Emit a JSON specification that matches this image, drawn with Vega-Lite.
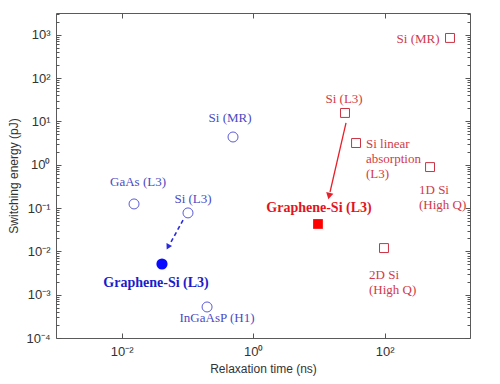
{
  "$schema": "https://vega.github.io/schema/vega-lite/v6.json",
  "width": 414,
  "height": 325,
  "autosize": {"type": "none"},
  "padding": {"left": 56, "top": 13, "right": 30, "bottom": 46},
  "background": "white",
  "config": {
    "view": {"stroke": "#5a5a5a", "strokeWidth": 1},
    "axis": {
      "grid": false,
      "domain": false,
      "labelFont": "Liberation Sans",
      "titleFont": "Liberation Sans",
      "labelColor": "#333333",
      "titleColor": "#333333",
      "tickColor": "#555555",
      "labelFontSize": 13,
      "titleFontSize": 12,
      "titleFontWeight": "normal"
    },
    "text": {"font": "Liberation Serif"}
  },
  "datasets": {
    "points": [
      {"name": "GaAs (L3)", "relax": 0.0154, "energy": 0.124, "set": "A"},
      {"name": "Si (L3)", "relax": 0.102, "energy": 0.077, "set": "A"},
      {"name": "Si (MR)", "relax": 0.494, "energy": 4.35, "set": "A"},
      {"name": "InGaAsP (H1)", "relax": 0.199, "energy": 0.00052, "set": "A"},
      {"name": "Graphene-Si (L3)", "relax": 0.041, "energy": 0.0051, "set": "A"},
      {"name": "Si (MR)", "relax": 990, "energy": 840, "set": "B"},
      {"name": "Si (L3)", "relax": 25, "energy": 15.6, "set": "B"},
      {"name": "Si linear absorption (L3)", "relax": 36.8, "energy": 3.16, "set": "B"},
      {"name": "1D Si (High Q)", "relax": 492, "energy": 0.88, "set": "B"},
      {"name": "2D Si (High Q)", "relax": 98, "energy": 0.0119, "set": "B"},
      {"name": "Graphene-Si (L3)", "relax": 9.7, "energy": 0.0428, "set": "B"}
    ],
    "labels": [
      {"label": "Si (MR)", "relax": 0.445, "energy": 11.9, "set": "A"},
      {"label": "GaAs (L3)", "relax": 0.0177, "energy": 0.398, "set": "A"},
      {"label": "Si (L3)", "relax": 0.1216, "energy": 0.161, "set": "A"},
      {"label": "InGaAsP (H1)", "relax": 0.282, "energy": 0.00029, "set": "A"},
      {"label": "Graphene-Si (L3)", "relax": 0.0333, "energy": 0.00186, "set": "A"},
      {"label": "Si (MR)", "relax": 323, "energy": 795, "set": "B"},
      {"label": "Si (L3)", "relax": 24.2, "energy": 32.8, "set": "B"},
      {"label": ["Si linear", "absorption", "(L3)"], "relax": 52.2, "energy": 3.0, "set": "B"},
      {"label": ["1D Si", "(High Q)"], "relax": 334, "energy": 0.26, "set": "B"},
      {"label": ["2D Si", "(High Q)"], "relax": 58, "energy": 0.00285, "set": "B"},
      {"label": "Graphene-Si (L3)", "relax": 10.05, "energy": 0.1, "set": "B"}
    ],
    "shafts": [
      {"set": "A", "relax": 0.0857, "energy": 0.0528, "relax2": 0.0543, "energy2": 0.0148},
      {"set": "B", "relax": 25.9, "energy": 9.2, "relax2": 14.8, "energy2": 0.234}
    ],
    "heads": [
      {"set": "A", "relax": 0.0506, "energy": 0.0126},
      {"set": "B", "relax": 14.3, "energy": 0.189}
    ]
  },
  "resolve": {"axis": {"x": "independent", "y": "independent"}},
  "layer": [
    {
      "data": {"name": "points"},
      "transform": [{"filter": "datum.set == 'A' && datum.name != 'Graphene-Si (L3)'"}],
      "mark": {"type": "point", "shape": "circle", "filled": false, "size": 100, "strokeWidth": 1, "color": "#5b5bd6", "opacity": 1},
      "encoding": {
        "x": {"field": "relax", "type": "quantitative", "scale": {"type": "log", "domain": [0.001, 1995.26], "nice": false, "zero": false},
          "axis": {"orient": "bottom", "values": [0.01, 1, 100], "ticks": false, "tickSize": 0, "labelPadding": 7, "title": "Relaxation time (ns)", "titlePadding": 5,
            "labelExpr": "'10' + (round(log(datum.value)/LN10) < 0 ? '⁻' : '') + substring('⁰¹²³⁴⁵⁶⁷⁸⁹', abs(round(log(datum.value)/LN10)), abs(round(log(datum.value)/LN10)) + 1)"}},
        "y": {"field": "energy", "type": "quantitative", "scale": {"type": "log", "domain": [0.0001, 3162.28], "nice": false, "zero": false},
          "axis": {"orient": "left", "values": [0.0001, 0.001, 0.01, 0.1, 1, 10, 100, 1000], "ticks": false, "tickSize": 0, "labelPadding": 6, "title": "Switching energy (pJ)", "titlePadding": 5,
            "labelExpr": "'10' + (round(log(datum.value)/LN10) < 0 ? '⁻' : '') + substring('⁰¹²³⁴⁵⁶⁷⁸⁹', abs(round(log(datum.value)/LN10)), abs(round(log(datum.value)/LN10)) + 1)"}}
      }
    },
    {
      "data": {"name": "points"},
      "transform": [{"filter": "datum.set == 'B' && datum.name != 'Graphene-Si (L3)'"}],
      "mark": {"type": "point", "shape": "square", "filled": false, "size": 80, "strokeWidth": 1, "color": "#cc3344", "opacity": 1},
      "encoding": {
        "x": {"field": "relax", "type": "quantitative", "scale": {"type": "log", "domain": [0.001, 1995.26], "nice": false, "zero": false},
          "axis": {"orient": "bottom", "values": [0.01, 1, 100], "labels": false, "tickSize": -5, "title": null}},
        "y": {"field": "energy", "type": "quantitative", "scale": {"type": "log", "domain": [0.0001, 3162.28], "nice": false, "zero": false},
          "axis": {"orient": "left", "values": [0.0001, 0.001, 0.01, 0.1, 1, 10, 100, 1000], "labels": false, "tickSize": -5, "title": null}}
      }
    },
    {
      "data": {"name": "points"},
      "transform": [{"filter": "datum.set == 'A' && datum.name == 'Graphene-Si (L3)'"}],
      "mark": {"type": "point", "shape": "circle", "filled": true, "size": 125, "color": "#0a0aff", "opacity": 1},
      "encoding": {
        "x": {"field": "relax", "type": "quantitative", "scale": {"type": "log", "domain": [0.001, 1995.26], "nice": false, "zero": false},
          "axis": {"orient": "top", "values": [0.01, 1, 100], "labels": false, "tickSize": -5, "title": null}},
        "y": {"field": "energy", "type": "quantitative", "scale": {"type": "log", "domain": [0.0001, 3162.28], "nice": false, "zero": false},
          "axis": {"orient": "right", "values": [0.0001, 0.001, 0.01, 0.1, 1, 10, 100, 1000], "labels": false, "tickSize": -5, "title": null}}
      }
    },
    {
      "data": {"name": "points"},
      "transform": [{"filter": "datum.set == 'B' && datum.name == 'Graphene-Si (L3)'"}],
      "mark": {"type": "point", "shape": "square", "filled": true, "size": 95, "color": "#ff0000", "opacity": 1},
      "encoding": {
        "x": {"field": "relax", "type": "quantitative", "scale": {"type": "log", "domain": [0.001, 1995.26], "nice": false, "zero": false}, "axis": null},
        "y": {"field": "energy", "type": "quantitative", "scale": {"type": "log", "domain": [0.0001, 3162.28], "nice": false, "zero": false},
          "axis": {"orient": "left", "values": [0.0002,0.0003,0.0004,0.0005,0.0006,0.0007,0.0008,0.0009,0.002,0.003,0.004,0.005,0.006,0.007,0.008,0.009,0.02,0.03,0.04,0.05,0.06,0.07,0.08,0.09,0.2,0.3,0.4,0.5,0.6,0.7,0.8,0.9,2,3,4,5,6,7,8,9,20,30,40,50,60,70,80,90,200,300,400,500,600,700,800,900,2000,3000], "labels": false, "tickSize": -3, "title": null}}
      }
    },
    {
      "data": {"name": "labels"},
      "transform": [{"filter": "datum.set == 'A' && datum.label != 'Graphene-Si (L3)'"}],
      "mark": {"type": "text", "fontSize": 13, "align": "center", "baseline": "middle", "color": "#4a4ac4"},
      "encoding": {
        "x": {"field": "relax", "type": "quantitative", "scale": {"type": "log", "domain": [0.001, 1995.26], "nice": false, "zero": false}, "axis": null},
        "y": {"field": "energy", "type": "quantitative", "scale": {"type": "log", "domain": [0.0001, 3162.28], "nice": false, "zero": false},
          "axis": {"orient": "right", "values": [0.0002,0.0003,0.0004,0.0005,0.0006,0.0007,0.0008,0.0009,0.002,0.003,0.004,0.005,0.006,0.007,0.008,0.009,0.02,0.03,0.04,0.05,0.06,0.07,0.08,0.09,0.2,0.3,0.4,0.5,0.6,0.7,0.8,0.9,2,3,4,5,6,7,8,9,20,30,40,50,60,70,80,90,200,300,400,500,600,700,800,900,2000,3000], "labels": false, "tickSize": -3, "title": null}},
        "text": {"field": "label"}
      }
    },
    {
      "data": {"name": "labels"},
      "transform": [{"filter": "datum.set == 'A' && datum.label == 'Graphene-Si (L3)'"}],
      "mark": {"type": "text", "fontSize": 14, "fontWeight": "bold", "align": "center", "baseline": "middle", "color": "#1c1cc8"},
      "encoding": {
        "x": {"field": "relax", "type": "quantitative", "scale": {"type": "log", "domain": [0.001, 1995.26], "nice": false, "zero": false}, "axis": null},
        "y": {"field": "energy", "type": "quantitative", "scale": {"type": "log", "domain": [0.0001, 3162.28], "nice": false, "zero": false}, "axis": null},
        "text": {"field": "label"}
      }
    },
    {
      "data": {"name": "labels"},
      "transform": [{"filter": "datum.set == 'B' && datum.label != 'Graphene-Si (L3)' && !isArray(datum.label)"}],
      "mark": {"type": "text", "fontSize": 13, "align": "center", "baseline": "middle", "color": "#d23a48"},
      "encoding": {
        "x": {"field": "relax", "type": "quantitative", "scale": {"type": "log", "domain": [0.001, 1995.26], "nice": false, "zero": false}, "axis": null},
        "y": {"field": "energy", "type": "quantitative", "scale": {"type": "log", "domain": [0.0001, 3162.28], "nice": false, "zero": false}, "axis": null},
        "text": {"field": "label"}
      }
    },
    {
      "data": {"name": "labels"},
      "transform": [{"filter": "datum.set == 'B' && isArray(datum.label)"}],
      "mark": {"type": "text", "fontSize": 13, "align": "left", "baseline": "middle", "lineHeight": 15, "color": "#d23a48"},
      "encoding": {
        "x": {"field": "relax", "type": "quantitative", "scale": {"type": "log", "domain": [0.001, 1995.26], "nice": false, "zero": false}, "axis": null},
        "y": {"field": "energy", "type": "quantitative", "scale": {"type": "log", "domain": [0.0001, 3162.28], "nice": false, "zero": false}, "axis": null},
        "text": {"field": "label"}
      }
    },
    {
      "data": {"name": "labels"},
      "transform": [{"filter": "datum.set == 'B' && datum.label == 'Graphene-Si (L3)'"}],
      "mark": {"type": "text", "fontSize": 14, "fontWeight": "bold", "align": "center", "baseline": "middle", "color": "#e2141e"},
      "encoding": {
        "x": {"field": "relax", "type": "quantitative", "scale": {"type": "log", "domain": [0.001, 1995.26], "nice": false, "zero": false}, "axis": null},
        "y": {"field": "energy", "type": "quantitative", "scale": {"type": "log", "domain": [0.0001, 3162.28], "nice": false, "zero": false}, "axis": null},
        "text": {"field": "label"}
      }
    },
    {
      "data": {"name": "shafts"},
      "transform": [{"filter": "datum.set == 'A'"}],
      "mark": {"type": "rule", "color": "#2a2ae0", "strokeWidth": 1.6, "strokeDash": [4, 3]},
      "encoding": {
        "x": {"field": "relax", "type": "quantitative", "scale": {"type": "log", "domain": [0.001, 1995.26], "nice": false, "zero": false}, "axis": null},
        "y": {"field": "energy", "type": "quantitative", "scale": {"type": "log", "domain": [0.0001, 3162.28], "nice": false, "zero": false}, "axis": null},
        "x2": {"field": "relax2"},
        "y2": {"field": "energy2"}
      }
    },
    {
      "data": {"name": "shafts"},
      "transform": [{"filter": "datum.set == 'B'"}],
      "mark": {"type": "rule", "color": "#e8202a", "strokeWidth": 1.3},
      "encoding": {
        "x": {"field": "relax", "type": "quantitative", "scale": {"type": "log", "domain": [0.001, 1995.26], "nice": false, "zero": false}, "axis": null},
        "y": {"field": "energy", "type": "quantitative", "scale": {"type": "log", "domain": [0.0001, 3162.28], "nice": false, "zero": false}, "axis": null},
        "x2": {"field": "relax2"},
        "y2": {"field": "energy2"}
      }
    },
    {
      "data": {"name": "heads"},
      "transform": [{"filter": "datum.set == 'A'"}],
      "mark": {"type": "point", "shape": "triangle-down", "filled": true, "size": 40, "angle": 28, "color": "#2a2ae0", "opacity": 1},
      "encoding": {
        "x": {"field": "relax", "type": "quantitative", "scale": {"type": "log", "domain": [0.001, 1995.26], "nice": false, "zero": false}, "axis": null},
        "y": {"field": "energy", "type": "quantitative", "scale": {"type": "log", "domain": [0.0001, 3162.28], "nice": false, "zero": false}, "axis": null}
      }
    },
    {
      "data": {"name": "heads"},
      "transform": [{"filter": "datum.set == 'B'"}],
      "mark": {"type": "point", "shape": "triangle-down", "filled": true, "size": 55, "angle": 13, "color": "#e8202a", "opacity": 1},
      "encoding": {
        "x": {"field": "relax", "type": "quantitative", "scale": {"type": "log", "domain": [0.001, 1995.26], "nice": false, "zero": false}, "axis": null},
        "y": {"field": "energy", "type": "quantitative", "scale": {"type": "log", "domain": [0.0001, 3162.28], "nice": false, "zero": false}, "axis": null}
      }
    }
  ]
}
